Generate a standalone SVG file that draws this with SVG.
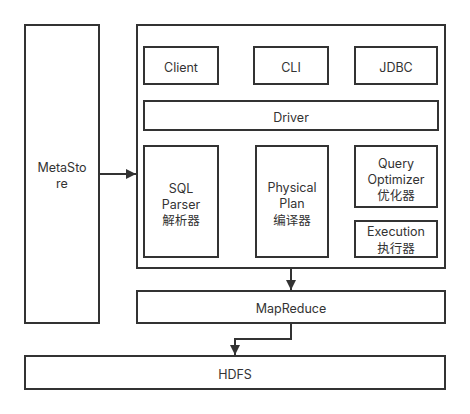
<svg xmlns="http://www.w3.org/2000/svg" width="470" height="414" viewBox="0 0 470 414">
<style>
.box{fill:#fff;stroke:#333;stroke-width:2}
.t{font-family:Inter,"Noto Sans CJK SC",sans-serif;font-size:12.5px;fill:#333;text-anchor:middle}
.c{fill:none;stroke:#333;stroke-width:2}
</style>
<defs>
<marker id="ah" markerWidth="10" markerHeight="10" viewBox="0 0 10 10" refX="10" refY="5" orient="auto" markerUnits="userSpaceOnUse">
<path d="M0,0 L10,5 L0,10 Z" fill="#333"/>
</marker>
</defs>
<rect width="470" height="414" fill="#fff"/>
<g id="metastore"><rect class="box" x="25" y="25" width="74" height="298"/><text class="t" x="62" y="172"><tspan x="62">MetaSto</tspan><tspan x="62" dy="16">re</tspan></text></g>
<g id="hive"><rect class="box" x="137" y="25" width="308" height="243"/></g>
<g id="client"><rect class="box" x="144" y="47" width="74" height="37"/><text class="t" x="181" y="72">Client</text></g>
<g id="cli"><rect class="box" x="254" y="47" width="74" height="37"/><text class="t" x="291" y="72">CLI</text></g>
<g id="jdbc"><rect class="box" x="355" y="47" width="82" height="37"/><text class="t" x="396" y="72">JDBC</text></g>
<g id="driver"><rect class="box" x="144" y="101" width="294" height="29"/><text class="t" x="291" y="122">Driver</text></g>
<g id="parser"><rect class="box" x="144" y="146" width="74" height="111"/><text class="t" x="181" y="193"><tspan x="181">SQL</tspan><tspan x="181" dy="15.5">Parser</tspan><tspan x="181" dy="16.5">解析器</tspan></text></g>
<g id="plan"><rect class="box" x="256" y="146" width="72" height="111"/><text class="t" x="292" y="192"><tspan x="292">Physical</tspan><tspan x="292" dy="16">Plan</tspan><tspan x="292" dy="16.5">编译器</tspan></text></g>
<g id="optimizer"><rect class="box" x="355" y="146" width="82" height="61"/><text class="t" x="396" y="168"><tspan x="396">Query</tspan><tspan x="396" dy="15.5">Optimizer</tspan><tspan x="396" dy="16">优化器</tspan></text></g>
<g id="execution"><rect class="box" x="355" y="221" width="82" height="36"/><text class="t" x="396" y="236"><tspan x="396">Execution</tspan><tspan x="396" dy="17">执行器</tspan></text></g>
<g id="mapreduce"><rect class="box" x="137" y="291" width="308" height="32"/><text class="t" x="291" y="313">MapReduce</text></g>
<g id="hdfs"><rect class="box" x="25" y="356" width="420" height="33"/><text class="t" x="235" y="379">HDFS</text></g>
<g id="connectors">
<path class="c" d="M99,174 L136,174" marker-end="url(#ah)"/>
<path class="c" d="M291,268 L291,290" marker-end="url(#ah)"/>
<path class="c" d="M291,323 L291,339 L235,339 L235,355" marker-end="url(#ah)"/>
</g>
</svg>
